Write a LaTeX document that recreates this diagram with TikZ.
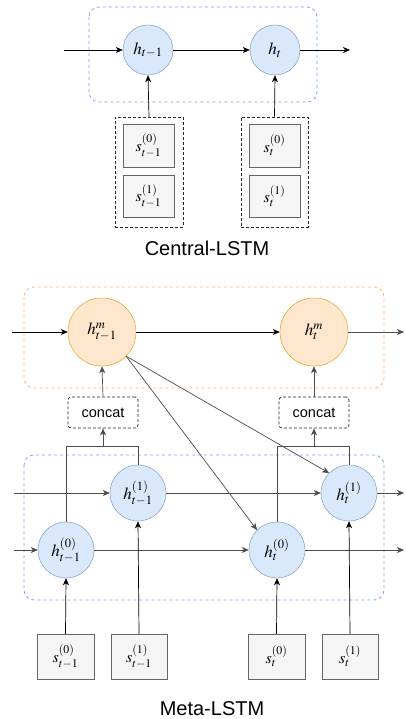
\documentclass[tikz,border=0pt]{standalone}
\usepackage{mathptmx}
\usepackage[no-math]{fontspec}
\setmainfont{Liberation Sans}
\usetikzlibrary{arrows.meta}
\definecolor{bstroke}{HTML}{6C8EBF}
\definecolor{bfill}{HTML}{DAE8FC}
\definecolor{ostroke}{HTML}{D79B00}
\definecolor{ofill}{HTML}{FFE6CC}
\definecolor{gstroke}{HTML}{666666}
\definecolor{gfill}{HTML}{F5F5F5}
\definecolor{bdash}{HTML}{7EA6E0}
\definecolor{odash}{HTML}{FFB570}
\definecolor{lgray}{HTML}{4D4D4D}
\tikzset{
  hb/.style={circle, draw=bstroke, fill=bfill, inner sep=0pt, font=\fontsize{17}{20}\selectfont},
  ho/.style={circle, draw=ostroke, fill=ofill, inner sep=0pt, minimum size=68pt, font=\fontsize{17}{20}\selectfont},
  sbox/.style={rectangle, draw=gstroke, fill=gfill, inner sep=0pt, font=\fontsize{16}{19}\selectfont},
  grp/.style={rectangle, draw=black!85, dash pattern=on 3pt off 2pt, line width=0.7pt, inner sep=0pt},
  cbox/.style={rectangle, draw=black!85, dash pattern=on 3pt off 2pt, line width=0.7pt, rounded corners=3pt, inner sep=0pt, minimum width=70pt, minimum height=31pt, font=\fontsize{14.5}{17}\selectfont},
  cont/.style={dash pattern=on 3pt off 3pt, line width=0.8pt, rounded corners=10pt},
  arr/.style={-{Stealth[length=7pt,width=6pt,inset=2pt]}, line width=0.7pt},
  garr/.style={arr, draw=lgray},
  gline/.style={draw=lgray, line width=0.7pt},
  title/.style={font=\fontsize{20}{24}\selectfont}
}
\begin{document}
\begin{tikzpicture}[x=1pt,y=-1pt]
\useasboundingbox[fill=white] (0,0) rectangle (405,719);
% ---------- Central-LSTM ----------
\draw[cont, bdash] (89,7) rectangle (317,102);
\node[hb, minimum size=50pt] (h1) at (148,50) {$h_{t-1}$};
\node[hb, minimum size=50pt] (h2) at (275,50) {$h_{t}$};
\coordinate (cin) at (64,50);
\coordinate (cout) at (350,50);
\draw[arr] (cin) -- (h1);
\draw[arr] (h1) -- (h2);
\draw[arr] (h2) -- (cout);
\node[grp, minimum width=68pt, minimum height=110pt] (g1) at (149,172) {};
\node[grp, minimum width=67pt, minimum height=110pt] (g2) at (274.5,172) {};
\node[sbox, minimum width=51pt, minimum height=43pt] (cs10) at (148.5,145.5) {$s^{(0)}_{t-1}$};
\node[sbox, minimum width=51pt, minimum height=42pt] (cs11) at (148.5,196) {$s^{(1)}_{t-1}$};
\node[sbox, minimum width=51pt, minimum height=43pt] (cs20) at (274.5,145.5) {$s^{(0)}_{t}$};
\node[sbox, minimum width=51pt, minimum height=42pt] (cs21) at (274.5,196) {$s^{(1)}_{t}$};
\draw[arr] (g1.north) -- (h1.south);
\draw[arr] (g2.north) -- (h2.south);
\node[title] (t1) at (207,248) {Central-LSTM};
% ---------- Meta-LSTM ----------
\draw[cont, odash] (24,287) rectangle (384,388);
\node[ho] (m1) at (102,332) {$h^{m}_{t-1}$};
\node[ho] (m2) at (314,332) {$h^{m}_{t}$};
\coordinate (min) at (12,332);
\coordinate (mout) at (404,332);
\draw[arr] (min) -- (m1);
\draw[arr] (m1) -- (m2);
\draw[garr] (m2) -- (mout);
\node[cbox] (c1) at (103,412.5) {concat};
\node[cbox] (c2) at (314,412.5) {concat};
\draw[garr] (c1.north) -- (m1.south);
\draw[garr] (c2.north) -- (m2.south);
\draw[cont, bdash] (24,455) rectangle (384,600);
\node[hb, minimum size=56pt] (a1) at (66,550) {$h^{(0)}_{t-1}$};
\node[hb, minimum size=56pt] (b1) at (138,493) {$h^{(1)}_{t-1}$};
\node[hb, minimum size=56pt] (a2) at (277,550) {$h^{(0)}_{t}$};
\node[hb, minimum size=56pt] (b2) at (349,493) {$h^{(1)}_{t}$};
\coordinate (bin) at (14,493);
\coordinate (bout) at (404,493);
\coordinate (ain) at (14,550);
\coordinate (aout) at (404,550);
\draw[garr] (bin) -- (b1);
\draw[garr] (b1) -- (b2);
\draw[garr] (b2) -- (bout);
\draw[garr] (ain) -- (a1);
\draw[garr] (a1) -- (a2);
\draw[garr] (a2) -- (aout);
% brackets
\coordinate (k1l) at (66,446);
\coordinate (k1r) at (138,446);
\coordinate (k1m) at (103,446);
\coordinate (k2l) at (277,446);
\coordinate (k2r) at (349,446);
\coordinate (k2m) at (314,446);
\draw[gline] (a1.north) -- (k1l) -- (k1r) -- (b1.north);
\draw[gline] (a2.north) -- (k2l) -- (k2r) -- (b2.north);
\draw[garr] (k1m) -- (c1.south);
\draw[garr] (k2m) -- (c2.south);
% diagonals
\draw[garr] (m1.-45) -- (a2.135);
\draw[garr] (m1.-45) -- (b2.135);
% inputs
\node[sbox, minimum width=57pt, minimum height=45pt] (s10) at (65.5,656.5) {$s^{(0)}_{t-1}$};
\node[sbox, minimum width=56pt, minimum height=45pt] (s11) at (139,656.5) {$s^{(1)}_{t-1}$};
\node[sbox, minimum width=57pt, minimum height=45pt] (s20) at (276.5,656.5) {$s^{(0)}_{t}$};
\node[sbox, minimum width=56pt, minimum height=45pt] (s21) at (350,656.5) {$s^{(1)}_{t}$};
\draw[arr] (s10.north) -- (a1.south);
\draw[arr] (s11.north) -- (b1.south);
\draw[arr] (s20.north) -- (a2.south);
\draw[arr] (s21.north) -- (b2.south);
\node[title] (t2) at (212,709) {Meta-LSTM};
\end{tikzpicture}
\end{document}
